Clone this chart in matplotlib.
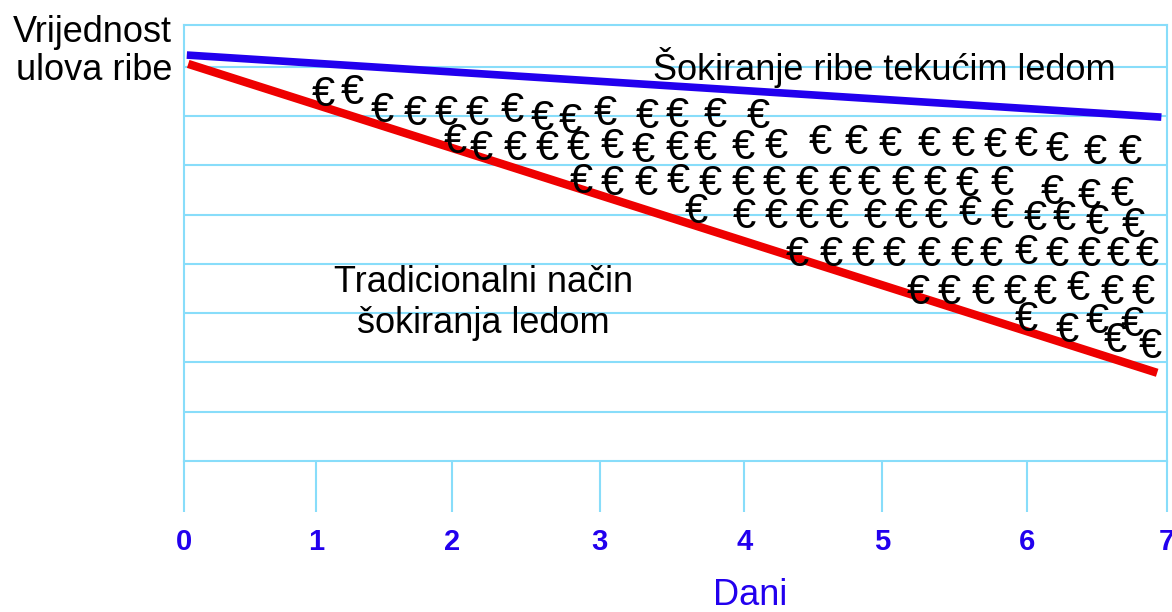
import matplotlib.pyplot as plt

# axis 'Dani' (days), tick marks as they sit in the picture
tick_pos = [0, 0.94, 1.91, 2.96, 3.99, 4.97, 6.00, 7.0]
tick_labels = ['0', '1', '2', '3', '4', '5', '6', '7']

# value of catch: liquid ice (blue) vs traditional ice (red)
blue_days = [0.02, 6.96]
blue_value = [8.24, 6.98]
red_days = [0.03, 6.93]
red_value = [8.06, 1.79]

# euro signs between the two lines, row by row
euro_x = [
    0.99, 1.20, 1.41, 1.65, 1.87, 2.09, 2.34, 2.55, 2.75, 3.00, 3.30, 3.51, 3.78, 4.09,
    1.93, 2.12, 2.36, 2.59, 2.81, 3.05, 3.27, 3.51, 3.71, 3.98, 4.22, 4.53, 4.79, 5.03,
    5.31, 5.55, 5.78, 6.00, 6.22, 6.49, 6.74,
    2.83, 3.05, 3.29, 3.52, 3.75, 3.98, 4.20, 4.44, 4.67, 4.88, 5.12, 5.35, 5.58, 5.83,
    6.18, 6.45, 6.68,
    3.65, 3.99, 4.22, 4.44, 4.65, 4.92, 5.14, 5.36, 5.60, 5.83, 6.06, 6.27, 6.50, 6.76,
    4.37, 4.61, 4.84, 5.06, 5.31, 5.54, 5.75, 6.00, 6.22, 6.45, 6.65, 6.86,
    5.23, 5.45, 5.69, 5.92, 6.13, 6.37, 6.61, 6.83,
    6.00, 6.29, 6.50, 6.63, 6.75, 6.88,
]
euro_y = [
    7.53, 7.57, 7.19, 7.13, 7.13, 7.13, 7.19, 7.03, 6.98, 7.13, 7.07, 7.09, 7.09, 7.07,
    6.56, 6.42, 6.42, 6.42, 6.42, 6.46, 6.38, 6.42, 6.42, 6.44, 6.46, 6.54, 6.54, 6.50,
    6.50, 6.50, 6.48, 6.50, 6.40, 6.34, 6.34,
    5.75, 5.71, 5.71, 5.75, 5.71, 5.71, 5.71, 5.71, 5.71, 5.71, 5.71, 5.71, 5.69, 5.71,
    5.54, 5.46, 5.50,
    5.14, 5.04, 5.04, 5.04, 5.04, 5.04, 5.04, 5.04, 5.10, 5.04, 5.00, 5.00, 4.93, 4.87,
    4.28, 4.28, 4.28, 4.28, 4.28, 4.28, 4.28, 4.32, 4.28, 4.28, 4.28, 4.28,
    3.51, 3.51, 3.51, 3.51, 3.51, 3.59, 3.51, 3.51,
    2.96, 2.72, 2.92, 2.52, 2.86, 2.40,
]

light = '#88DDFA'
blue = '#2200EE'
red = '#EE0000'

plt.rcParams['font.family'] = ['Liberation Sans', 'DejaVu Sans']

fig = plt.figure(figsize=(11.72, 6.12), dpi=100)
ax = fig.add_axes([184 / 1172, 1 - 461 / 612, 983 / 1172, 436 / 612])
ax.set_xlim(0, 7)
ax.set_ylim(0, 8.85)

for s in ax.spines.values():
    s.set_color(light)
    s.set_linewidth(1.5)

ax.set_yticks(range(1, 9))
ax.tick_params(axis='y', length=0, labelleft=False)
ax.grid(True, axis='y', color=light, linewidth=1.5)
ax.set_axisbelow(True)

ax.set_xticks(tick_pos, tick_labels)
ax.tick_params(axis='x', direction='out', length=37, width=1.5, color=light,
               pad=11, labelsize=21, labelcolor=blue)
for lab in ax.get_xticklabels():
    lab.set_fontweight('bold')

ax.plot(blue_days, blue_value, color=blue, lw=5.5, solid_capstyle='butt')
ax.plot(red_days, red_value, color=red, lw=6, solid_capstyle='butt')

for x, y in zip(euro_x, euro_y):
    ax.text(x, y, '€', ha='center', va='center_baseline', fontsize=30, color='black')

ax.text(4.99, 7.74, 'Šokiranje ribe tekućim ledom', ha='center', va='baseline',
        fontsize=26)
ax.text(2.13, 3.43, 'Tradicionalni način', ha='center', va='baseline', fontsize=26)
ax.text(2.13, 2.60, 'šokiranja ledom', ha='center', va='baseline', fontsize=26)

fig.text(172 / 1172, 1 - 42 / 612, 'Vrijednost', ha='right', va='baseline', fontsize=26)
fig.text(172 / 1172, 1 - 80 / 612, 'ulova ribe', ha='right', va='baseline', fontsize=26)
fig.text(750 / 1172, 1 - 605 / 612, 'Dani', ha='center', va='baseline', fontsize=26,
         color=blue)

fig.savefig('out.png', dpi=100)
